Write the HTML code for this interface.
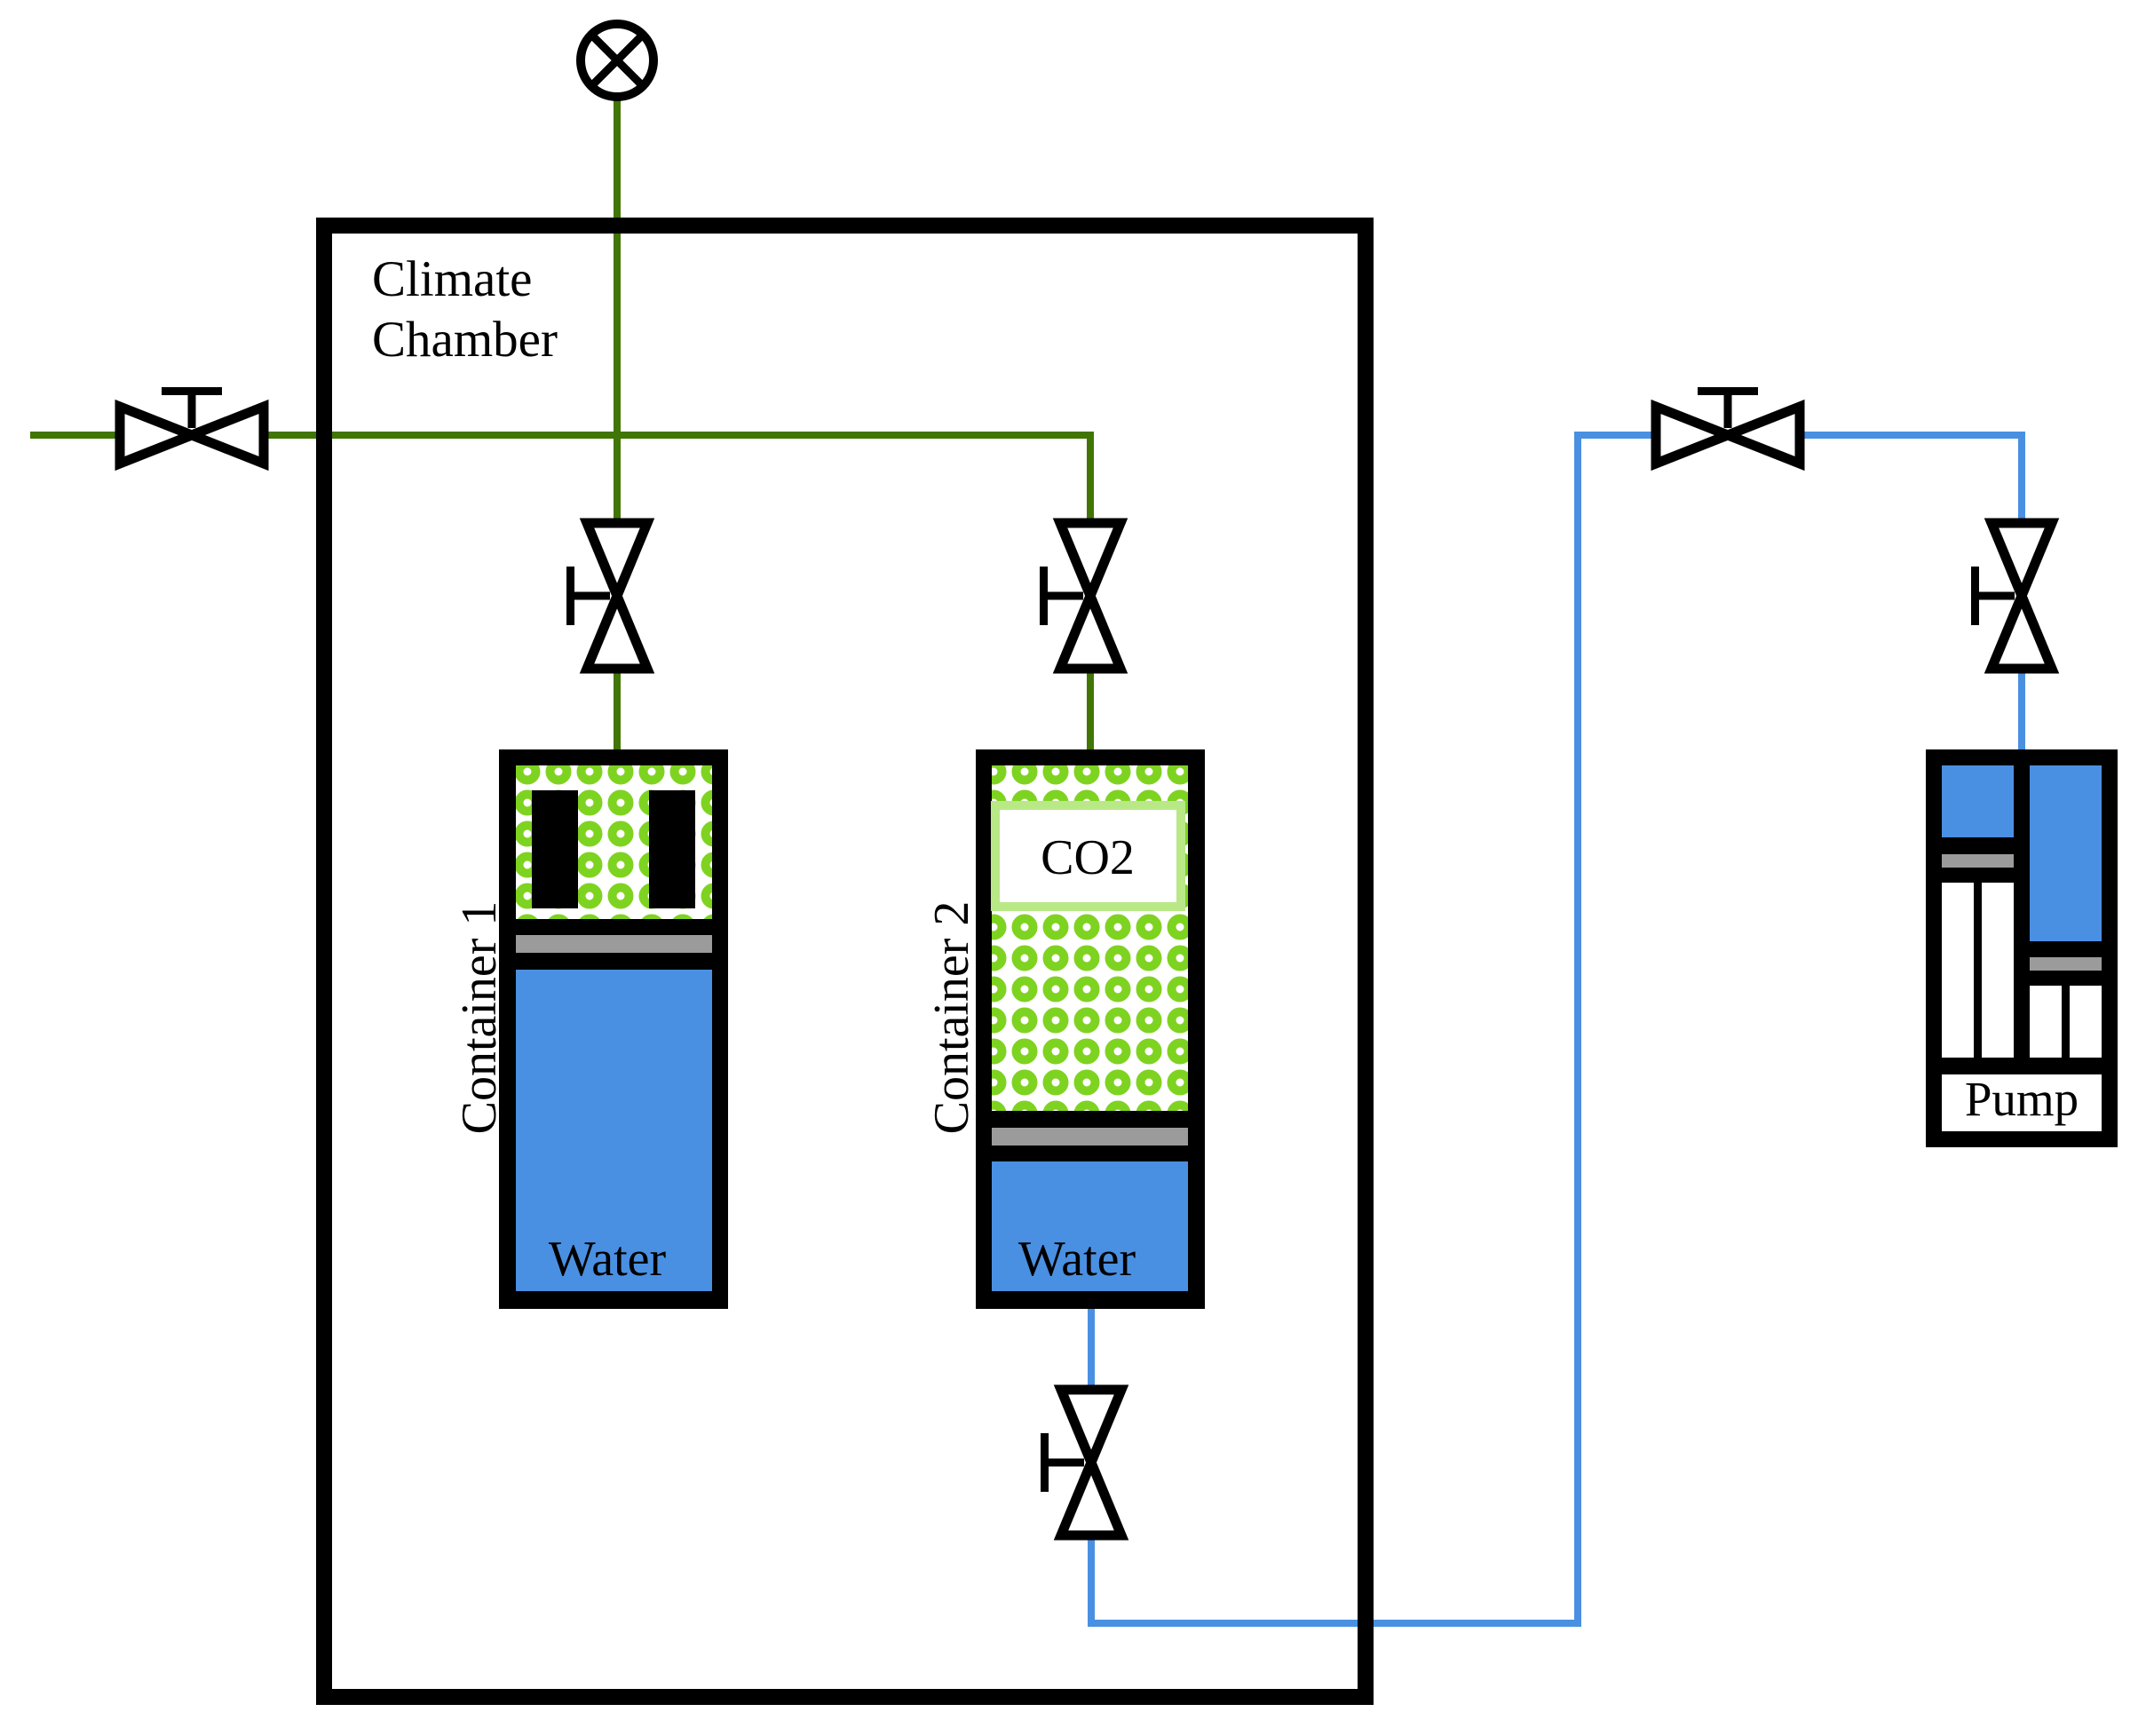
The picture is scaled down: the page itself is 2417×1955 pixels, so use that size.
<!DOCTYPE html>
<html><head><meta charset="utf-8"><style>html,body{margin:0;padding:0;background:#fff}svg{display:block}</style></head>
<body>
<svg width="2417" height="1955" viewBox="0 0 2417 1955" xmlns="http://www.w3.org/2000/svg" font-family="'Liberation Serif', serif">
<defs>
<pattern id="dots" patternUnits="userSpaceOnUse" x="646.5" y="851.5" width="35" height="35">
<circle cx="17.5" cy="17.5" r="9.5" fill="none" stroke="#7ed321" stroke-width="10"/>
</pattern>
<g id="vv">
<path d="M-34,-82 L34,-82 L-34,82 L34,82 Z" fill="#fff" stroke="#000" stroke-width="11" stroke-linejoin="miter"/>
<line x1="-8" y1="0" x2="-50" y2="0" stroke="#000" stroke-width="9"/>
<rect x="-57" y="-33" width="9" height="66" fill="#000"/>
</g>
<g id="hv">
<path d="M-81,-32 L-81,32 L81,-32 L81,32 Z" fill="#fff" stroke="#000" stroke-width="11"/>
<line x1="0" y1="-8" x2="0" y2="-45" stroke="#000" stroke-width="9"/>
<rect x="-34" y="-54" width="68" height="9" fill="#000"/>
</g>
</defs>

<g stroke="#417505" stroke-width="8" fill="none">
<line x1="34" y1="490" x2="1232" y2="490"/>
<line x1="695" y1="113" x2="695" y2="846"/>
<line x1="1228" y1="490" x2="1228" y2="846"/>
</g>
<g stroke="#4a90e2" stroke-width="8" fill="none">
<polyline points="2277,846 2277,490 1777,490 1777,1828 1229,1828 1229,1474"/>
</g>

<rect x="365" y="254" width="1173" height="1657" fill="none" stroke="#000" stroke-width="18"/>
<text x="419" y="333" font-size="57">Climate</text>
<text x="419" y="401" font-size="57">Chamber</text>

<circle cx="695" cy="68" r="41" fill="#fff" stroke="#000" stroke-width="10"/>
<line x1="666" y1="39" x2="724" y2="97" stroke="#000" stroke-width="9"/>
<line x1="724" y1="39" x2="666" y2="97" stroke="#000" stroke-width="9"/>

<use href="#hv" x="216" y="490"/>
<use href="#hv" x="1946" y="490"/>
<use href="#vv" x="695" y="671"/>
<use href="#vv" x="1228" y="671"/>
<use href="#vv" x="2277" y="671"/>
<use href="#vv" x="1229" y="1647"/>

<rect x="562" y="844" width="258" height="630" fill="#000"/>
<rect x="581" y="862" width="221" height="173" fill="#fff"/>
<rect x="581" y="862" width="221" height="173" fill="url(#dots)"/>
<rect x="599" y="890" width="52" height="133" fill="#000"/>
<rect x="731" y="890" width="52" height="133" fill="#000"/>
<rect x="581" y="1053" width="221" height="20" fill="#9b9b9b"/>
<rect x="581" y="1092" width="221" height="362" fill="#4a90e2"/>
<text x="684" y="1436" font-size="56" text-anchor="middle">Water</text>
<text transform="translate(558,1146) rotate(-90)" font-size="56" text-anchor="middle">Container 1</text>

<rect x="1099" y="844" width="258" height="630" fill="#000"/>
<rect x="1117" y="862" width="221" height="389" fill="#fff"/>
<rect x="1117" y="862" width="221" height="389" fill="url(#dots)"/>
<rect x="1121" y="907" width="209" height="114" fill="#fff" stroke="#b8e986" stroke-width="10"/>
<text x="1225" y="984" font-size="56" text-anchor="middle">CO2</text>
<rect x="1117" y="1270" width="221" height="20" fill="#9b9b9b"/>
<rect x="1117" y="1308" width="221" height="146" fill="#4a90e2"/>
<text x="1213" y="1436" font-size="56" text-anchor="middle">Water</text>
<text transform="translate(1090,1146) rotate(-90)" font-size="56" text-anchor="middle">Container 2</text>

<rect x="2169" y="844" width="216" height="448" fill="#000"/>
<rect x="2187" y="862" width="81" height="81" fill="#4a90e2"/>
<rect x="2187" y="962" width="81" height="15" fill="#9b9b9b"/>
<rect x="2187" y="994" width="36" height="197" fill="#fff"/>
<rect x="2232" y="994" width="36" height="197" fill="#fff"/>
<rect x="2286" y="862" width="81" height="198" fill="#4a90e2"/>
<rect x="2286" y="1078" width="81" height="15" fill="#9b9b9b"/>
<rect x="2286" y="1110" width="36" height="81" fill="#fff"/>
<rect x="2331" y="1110" width="36" height="81" fill="#fff"/>
<rect x="2187" y="1210" width="180" height="64" fill="#fff"/>
<text x="2277" y="1256" font-size="55" text-anchor="middle">Pump</text>
</svg>
</body></html>
